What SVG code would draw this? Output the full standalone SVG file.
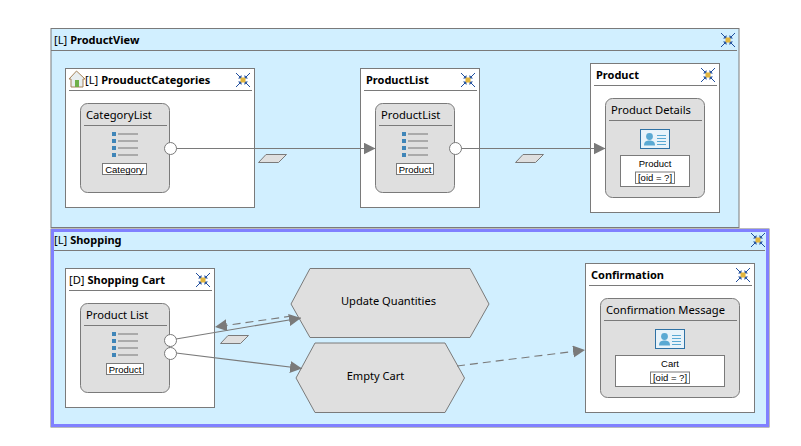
<svg xmlns="http://www.w3.org/2000/svg" width="801" height="446" viewBox="0 0 801 446">
<style>
text{font-family:"Noto Sans","Open Sans","DejaVu Sans",sans-serif;fill:#000}
.t{font-size:11.2px}
.t .b{font-weight:700;font-size:11px}
.h{font-size:11.2px}
.s{font-size:9.5px;text-anchor:middle;font-family:"Liberation Sans",Arial,sans-serif}
.c{font-size:11.1px;text-anchor:middle}
.area{fill:#d1efff;stroke:#7a7a7a;stroke-width:1}
.page{fill:#fff;stroke:#7a7a7a;stroke-width:1}
.unit{fill:#dfdfdf;stroke:#7a7a7a;stroke-width:1}
.ln{fill:none;stroke:#7a7a7a;stroke-width:1}
.box{fill:#fff;stroke:#7a7a7a;stroke-width:1}
.port{fill:#fff;stroke:#7a7a7a;stroke-width:1}
.conn{fill:none;stroke:#7a7a7a;stroke-width:1.1}
.dash{stroke-dasharray:8 5}
.param{fill:#dfdfdf;stroke:#7a7a7a;stroke-width:1}
</style>
<defs>
<marker id="arrow" markerUnits="userSpaceOnUse" markerWidth="13" markerHeight="13" refX="12" refY="6" orient="auto">
<path d="M0 0L12 6L0 12Z" fill="#7a7a7a"/>
</marker>
<g id="collapse">
<path d="M-7 -7L-3 -3M7 -7L3 -3M-7 7L-3 3M7 7L3 3" stroke="#1f4e9e" stroke-width="1" fill="none"/>
<path d="M-5 -1.5L-1.5 -1.5L-1.5 -5ZM5 -1.5L1.5 -1.5L1.5 -5ZM-5 1.5L-1.5 1.5L-1.5 5ZM5 1.5L1.5 1.5L1.5 5Z" fill="#1f4e9e"/>
<rect x="-2.5" y="-2.5" width="5" height="5" rx="1" fill="#e2b53c"/>
</g>
<g id="list">
<g fill="#3f85b8">
<rect x="-2" y="-2" width="4" height="4"/><rect x="-2" y="5" width="4" height="4"/><rect x="-2" y="12" width="4" height="4"/><rect x="-2" y="19" width="4" height="4"/>
</g>
<path d="M4 0H24M4 7H24M4 14H24M4 21H24" stroke="#999" stroke-width="1.6" fill="none"/>
</g>
<g id="card">
<rect x="0.5" y="0.5" width="29" height="19" fill="#e8f3fa" stroke="#2f72a5"/>
<circle cx="9.5" cy="7.5" r="3.4" fill="#5aa9d3"/>
<path d="M4 16.5C4 12 7 11.5 9.5 11.5S15 12 15 16.5Z" fill="#5aa9d3"/>
<path d="M17 6.5H26M17 9.5H26M17 12.5H26M17 15.5H26" stroke="#5aa9d3" fill="none"/>
</g>
</defs>

<g id="ProductView">
<rect class="area" x="51" y="28.5" width="688" height="199"/>
<path class="ln" d="M51 50.5H737"/>
<text class="t" x="54" y="43.5">[L] <tspan class="b">ProductView</tspan></text>
<use href="#collapse" x="728" y="40"/>
</g>

<g id="Shopping">
<rect x="51" y="229" width="718" height="198" fill="#d1efff" stroke="#7a7a7a"/>
<rect x="52.5" y="230.5" width="715" height="195" fill="none" stroke="#8080ff" stroke-width="3"/>
<path class="ln" d="M54 250.5H765"/>
<text class="t" x="54" y="243.5">[L] <tspan class="b">Shopping</tspan></text>
<use href="#collapse" x="758" y="240"/>
</g>

<g id="ProuductCategories">
<rect class="page" x="65.5" y="68.5" width="189" height="139"/>
<path class="ln" d="M69 90.5H252"/>
<path d="M76.5 71L69 79L71 79L71 87L83 87L83 79L85 79Z" fill="#e8eef0" stroke="#a5835a" stroke-width="1"/>
<rect x="75" y="80" width="4" height="7" fill="#6fb04a"/>
<text class="t" x="85" y="83.5">[L] <tspan class="b">ProuductCategories</tspan></text>
<use href="#collapse" x="243" y="80"/>
</g>
<g id="CategoryList">
<rect class="unit" x="80.5" y="103.5" width="89" height="89" rx="7"/>
<path class="ln" d="M84 125.5H167"/>
<text class="h" x="86" y="118.5">CategoryList</text>
<use href="#list" x="114" y="134"/>
<rect class="box" x="102.5" y="163.5" width="44" height="11"/>
<text class="s" x="124.5" y="172.5">Category</text>
</g>

<g id="ProductListPage">
<rect class="page" x="360.5" y="68.5" width="119" height="139"/>
<path class="ln" d="M364 90.5H477"/>
<text class="t" x="366" y="83.5"><tspan class="b">ProductList</tspan></text>
<use href="#collapse" x="468" y="80"/>
</g>
<g id="ProductListUnit">
<rect class="unit" x="375.5" y="103.5" width="79" height="89" rx="7"/>
<path class="ln" d="M379 125.5H452"/>
<text class="h" x="381" y="118.5">ProductList</text>
<use href="#list" x="404" y="134"/>
<rect class="box" x="396.5" y="163.5" width="37" height="11"/>
<text class="s" x="415" y="172.5">Product</text>
</g>

<g id="ProductPage">
<rect class="page" x="590.5" y="63.5" width="129" height="149"/>
<path class="ln" d="M594 85.5H717"/>
<text class="t" x="596" y="78.5"><tspan class="b">Product</tspan></text>
<use href="#collapse" x="708" y="75"/>
</g>
<g id="ProductDetails">
<rect class="unit" x="605.5" y="98.5" width="99" height="99" rx="7"/>
<path class="ln" d="M609 120.5H702"/>
<text class="h" x="611" y="113.5">Product Details</text>
<use href="#card" x="640" y="129"/>
<rect class="box" x="620.5" y="155.5" width="69" height="31"/>
<text class="s" x="655" y="167">Product</text>
<rect class="box" x="635.5" y="172" width="39" height="11.5"/>
<text class="s" x="655" y="181">[oid = ?]</text>
</g>

<g id="ShoppingCart">
<rect class="page" x="65.5" y="268.5" width="149" height="139"/>
<path class="ln" d="M69 290.5H212"/>
<text class="t" x="69" y="283.5">[D] <tspan class="b">Shopping Cart</tspan></text>
<use href="#collapse" x="203" y="280"/>
</g>
<g id="ProductListCart">
<rect class="unit" x="80.5" y="303.5" width="89" height="89" rx="7"/>
<path class="ln" d="M84 325.5H167"/>
<text class="h" x="86" y="318.5">Product List</text>
<use href="#list" x="114" y="334"/>
<rect class="box" x="106.5" y="363.5" width="37" height="11"/>
<text class="s" x="125" y="372.5">Product</text>
</g>

<g id="UpdateQuantities">
<polygon class="unit" points="291,304 310,268.5 470,268.5 489,304 470,337.5 310,337.5"/>
<text class="c" x="388.5" y="304.5">Update Quantities</text>
</g>
<g id="EmptyCart">
<polygon class="unit" points="296,378 315,343 445,343 464.5,378 445,412.5 315,412.5"/>
<text class="c" x="375.5" y="379.5">Empty Cart</text>
</g>

<g id="ConfirmationPage">
<rect class="page" x="585.5" y="263.5" width="169" height="149"/>
<path class="ln" d="M589 285.5H752"/>
<text class="t" x="591" y="278.5"><tspan class="b">Confirmation</tspan></text>
<use href="#collapse" x="743" y="275"/>
</g>
<g id="ConfirmationMessage">
<rect class="unit" x="600.5" y="298.5" width="139" height="99" rx="7"/>
<path class="ln" d="M604 320.5H737"/>
<text class="h" x="606" y="313.5">Confirmation Message</text>
<use href="#card" x="655" y="329"/>
<rect class="box" x="615.5" y="355.5" width="109" height="31"/>
<text class="s" x="670" y="367">Cart</text>
<rect class="box" x="650.5" y="372" width="39" height="11.5"/>
<text class="s" x="670" y="381">[oid = ?]</text>
</g>

<g id="connectors">
<path class="conn" d="M176 148.5H375.5" marker-end="url(#arrow)"/>
<path class="conn" d="M461 148.5H605.5" marker-end="url(#arrow)"/>
<path class="conn" d="M176 339L301 318" marker-end="url(#arrow)"/>
<path class="conn dash" d="M292 316L215 327" marker-end="url(#arrow)"/>
<path class="conn" d="M176 353L302 368.5" marker-end="url(#arrow)"/>
<path class="conn dash" d="M457 366L585 350" marker-end="url(#arrow)"/>
<circle class="port" cx="170.5" cy="148.5" r="6"/>
<circle class="port" cx="455.5" cy="148.5" r="6"/>
<circle class="port" cx="170.5" cy="340.5" r="6"/>
<circle class="port" cx="170.5" cy="353.5" r="6"/>
<polygon class="param" points="266,154.5 286.5,154.5 278.5,162.5 258.5,162.5"/>
<polygon class="param" points="523,154.5 543.5,154.5 535.5,162.5 515.5,162.5"/>
<polygon class="param" points="228,335.5 248.5,335.5 240.5,343.5 220.5,343.5"/>
</g>
</svg>
